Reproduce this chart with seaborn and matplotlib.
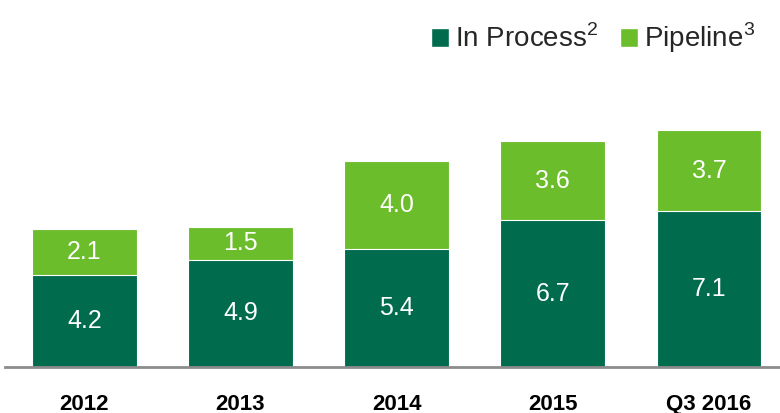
import matplotlib
matplotlib.use("Agg")
import matplotlib.pyplot as plt
import seaborn as sns
import pandas as pd
from matplotlib.patches import Patch

categories = ["2012", "2013", "2014", "2015", "Q3 2016"]
in_process = [4.2, 4.9, 5.4, 6.7, 7.1]
pipeline = [2.1, 1.5, 4.0, 3.6, 3.7]
series_names = ["In Process$^{2}$", "Pipeline$^{3}$"]

dark = "#006B4D"
light = "#6CBD2B"

sns.set_theme(style="white")
plt.rcParams["font.family"] = ["Liberation Sans", "DejaVu Sans"]
plt.rcParams["mathtext.fontset"] = "custom"
plt.rcParams["mathtext.rm"] = "Liberation Sans"

df = pd.DataFrame({"cat": categories, "inp": in_process, "pipe": pipeline})
df["total"] = df["inp"] + df["pipe"]

fig = plt.figure(figsize=(7.8, 4.13), dpi=100)
ax = fig.add_axes([0.006, 0.111, 0.994, 0.744])

sns.barplot(data=df, x="cat", y="total", color=light, width=0.67, ax=ax,
            saturation=1, edgecolor="white", linewidth=0.8)
sns.barplot(data=df, x="cat", y="inp", color=dark, width=0.67, ax=ax,
            saturation=1, edgecolor="white", linewidth=0.8)

for i, (a, b) in enumerate(zip(in_process, pipeline)):
    ax.text(i, a / 2, f"{a:.1f}", ha="center", va="center", color="white", fontsize=18)
    ax.text(i, a + b / 2, f"{b:.1f}", ha="center", va="center", color="white", fontsize=18)

ax.set_xlim(-0.51, 4.455)
ax.set_ylim(0, 14.0)
ax.set_xlabel("")
ax.set_ylabel("")
ax.set_yticks([])
for s in ["top", "right", "left"]:
    ax.spines[s].set_visible(False)
ax.spines["bottom"].set_color("#8C8C8C")
ax.spines["bottom"].set_linewidth(2)
ax.tick_params(axis="x", length=0, pad=19)
for lbl in ax.get_xticklabels():
    lbl.set_fontweight("bold")
    lbl.set_fontsize(16)
    lbl.set_color("black")

handles = [Patch(facecolor=dark, label=series_names[0]),
           Patch(facecolor=light, label=series_names[1])]
fig.legend(handles=handles, loc="upper right", bbox_to_anchor=(1.0, 1.01),
           ncol=2, frameon=False, fontsize=20, handlelength=0.65, handleheight=0.65,
           handletextpad=0.2, columnspacing=0.8)

fig.savefig("out.png", dpi=100)
